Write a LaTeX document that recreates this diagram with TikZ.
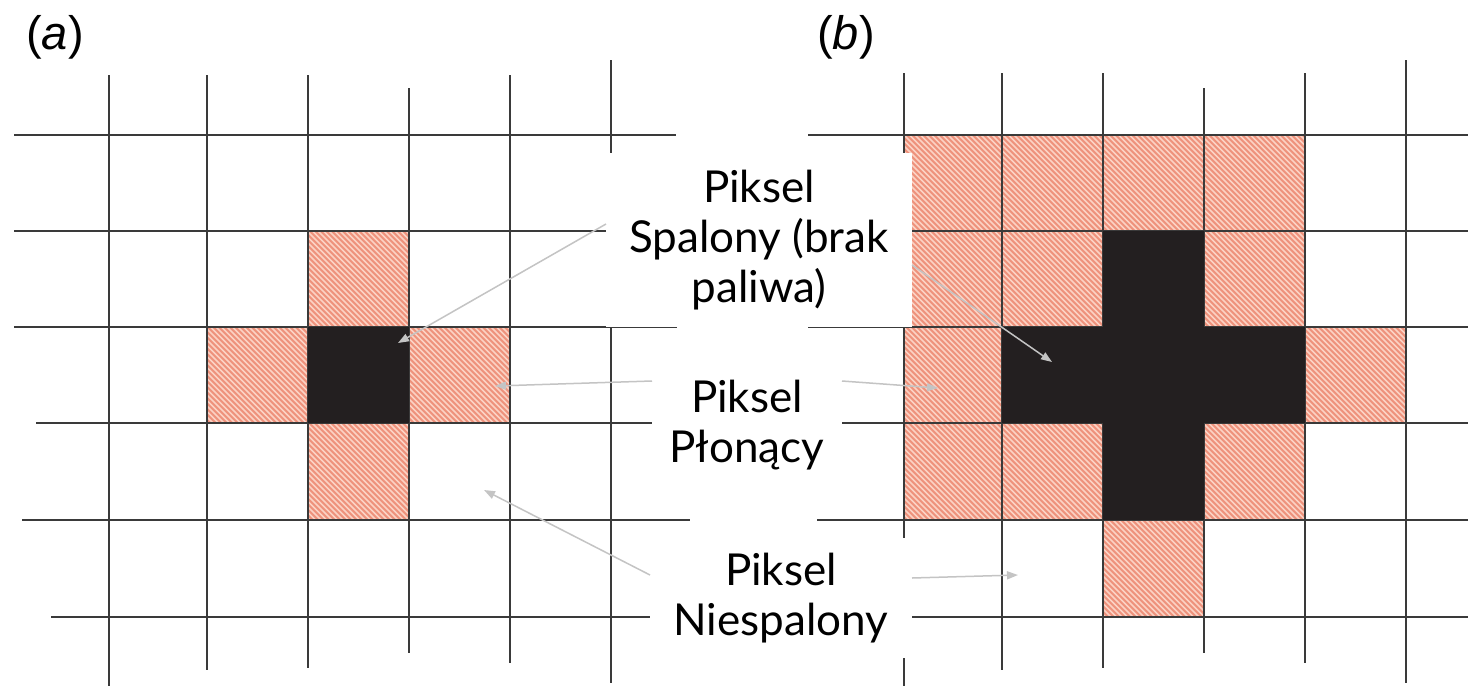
\documentclass[tikz,border=0pt]{standalone}
\usepackage{fontspec}
\usetikzlibrary{arrows.meta}
\newfontfamily\labfont{Lato}
\newfontfamily\panfont{Liberation Sans}
\definecolor{gridc}{RGB}{58,58,58}
\definecolor{pinkc}{RGB}{238,146,124}
\definecolor{stripec}{RGB}{251,210,196}
\definecolor{blackc}{RGB}{35,31,32}
\definecolor{arrc}{RGB}{196,196,196}
\begin{document}
\begin{tikzpicture}[x=1pt,y=-1pt,
  gridline/.style={draw=gridc, line width=2.6pt},
  stripe/.style={draw=stripec, line width=1.7pt},
  burnt/.style={fill=blackc},
  labelbox/.style={fill=white, inner sep=0pt, align=center, text=black,
    font=\labfont\fontsize{44}{50}\selectfont},
  callout/.style={draw=arrc, line width=1.5pt, -{Triangle[length=11pt,width=8pt]}},
  panel/.style={inner sep=0pt, font=\panfont\fontsize{47}{50}\selectfont}]
\useasboundingbox (0,0) rectangle (1468,686);
\fill[white] (0,0) rectangle (1468,686);

% ---------- burning (hatched) pixels ----------
\begin{scope}
  \clip (308,231) rectangle (409,327)
        (207,327) rectangle (308,423)
        (409,327) rectangle (510,423)
        (308,423) rectangle (409,520)
        (904,135) rectangle (1305,231)
        (904,231) rectangle (1103,327)
        (1204,231) rectangle (1305,327)
        (904,327) rectangle (1002,423)
        (1305,327) rectangle (1406,423)
        (904,423) rectangle (1103,520)
        (1204,423) rectangle (1305,520)
        (1103,520) rectangle (1204,617);
  \fill[pinkc] (0,0) rectangle (1468,686);
  \foreach \i in {-330,-324.5,...,1390} { \draw[stripe] (\i,100) -- ++(600,600); }
\end{scope}

% ---------- grid (a) ----------
\foreach \x/\t/\b in {109/75/686, 207/75/670, 308/75/668, 409/88/653, 510/75/663, 611/60/683}
  { \draw[gridline] (\x,\t) -- (\x,\b); }
\foreach \y/\l/\r in {135/14/676, 231/14/676, 327/14/677, 423/36/676, 520/22/690, 617/51/676}
  { \draw[gridline] (\l,\y) -- (\r,\y); }
% ---------- grid (b) ----------
\foreach \x/\t/\b in {904/73/686, 1002/73/670, 1103/73/668, 1204/88/653, 1305/73/663, 1406/60/683}
  { \draw[gridline] (\x,\t) -- (\x,\b); }
\foreach \y/\l in {135/808, 231/809, 327/808, 423/831, 520/817, 617/846}
  { \draw[gridline] (\l,\y) -- (1468,\y); }

% ---------- burnt pixels ----------
\fill[burnt] (308,327) rectangle (409,423);
\fill[burnt] (1103,231) rectangle (1204,520);
\fill[burnt] (1002,327) rectangle (1305,423);

% ---------- labels ----------
\node[labelbox, minimum width=306pt, minimum height=174pt] (spalony) at (759,240)
  {Piksel\\Spalony (brak\\paliwa)};
\node[labelbox, minimum width=190pt, minimum height=150pt] (plonacy) at (747,425)
  {Piksel\\P\l{}on\k{a}cy};
\node[labelbox, minimum width=262pt, minimum height=120pt] (niespalony) at (781,598)
  {Piksel\\Niespalony};

\node[panel] (pa) at (55,37) {(\textit{a})};
\node[panel] (pb) at (846,37) {(\textit{b})};

% ---------- callouts ----------
\coordinate (sA0) at (606,224);  \coordinate (sA1) at (398,343);
\coordinate (sB0) at (912,265);  \coordinate (sB1) at (1052,362);
\coordinate (pA0) at (652,381);  \coordinate (pA1) at (495,386);
\coordinate (pB0) at (842,381);  \coordinate (pB1) at (938,388);
\coordinate (nA0) at (650,575);  \coordinate (nA1) at (484,490);
\coordinate (nB0) at (912,578);  \coordinate (nB1) at (1018,575);
\draw[callout] (sA0) -- (sA1);
\draw[callout] (sB0) -- (sB1);
\draw[callout] (pA0) -- (pA1);
\draw[callout] (pB0) -- (pB1);
\draw[callout] (nA0) -- (nA1);
\draw[callout] (nB0) -- (nB1);
\end{tikzpicture}
\end{document}
